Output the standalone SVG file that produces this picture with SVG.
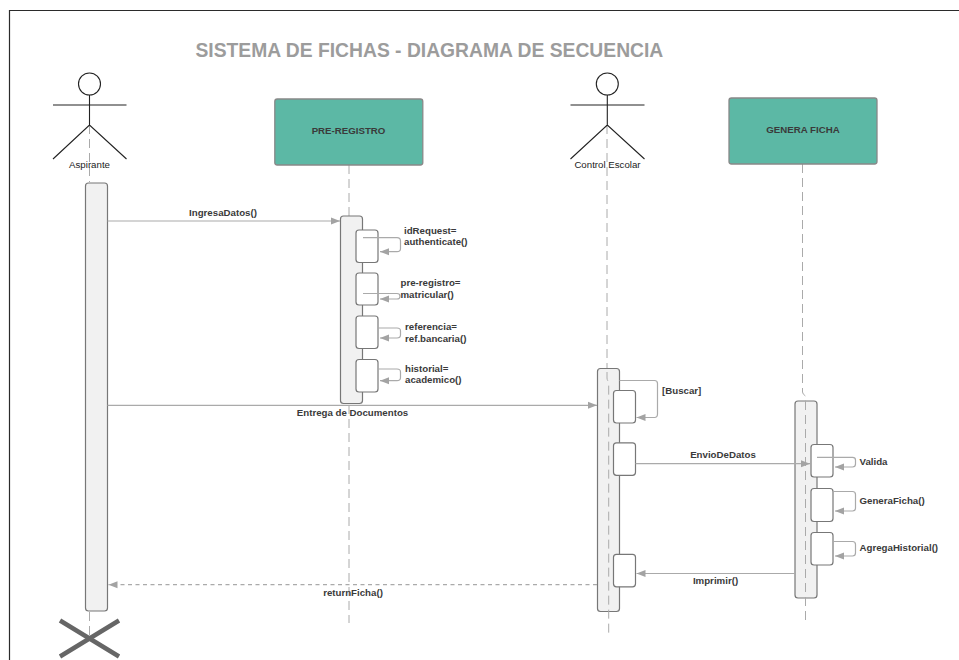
<svg xmlns="http://www.w3.org/2000/svg" width="959" height="660" viewBox="0 0 959 660">
<style>
text{font-family:"Liberation Sans",Arial,sans-serif;fill:#3a3a3a;font-weight:bold;font-size:9.7px}
.title{font-size:19.3px;fill:#9c9c9c}
.c{text-anchor:middle}
.reg{font-weight:normal;fill:#222}
.actor{fill:none;stroke:#222;stroke-width:1.1}
.life{fill:none;stroke:#aaa;stroke-width:1;stroke-dasharray:9 5}
.box{fill:#5cb8a5;stroke:#888;stroke-width:1.3}
.act{fill:#f1f1f1;stroke:#777;stroke-width:1.2}
.sub{fill:#fff;stroke:#777;stroke-width:1.2}
.msg{fill:none;stroke:#aaa;stroke-width:1.2;marker-end:url(#arr)}
.dash{stroke-dasharray:4 3.5}
</style>
<defs>
<marker id="arr" markerUnits="userSpaceOnUse" markerWidth="10" markerHeight="8" refX="9" refY="4" orient="auto"><path d="M0 0.5L9 4L0 7.5Z" fill="#a3a3a3"/></marker>
</defs>
<rect width="959" height="660" fill="#fff"/>
<path id="frame" d="M9.500 660V10.500H959" fill="none" stroke="#2b2b2b" stroke-width="1.200"/>
<text class="title" x="195.500" y="56.500">SISTEMA DE FICHAS - DIAGRAMA DE SECUENCIA</text>
<g id="lifelines">
<path class="life" d="M89.500 125V182M89.500 612V640"/>
<path class="life" d="M349 165V216M349 405V623"/>
<path class="life" d="M607 125V372"/>
<path class="life" d="M802.500 164V392Q802.500 394 805.500 396V401"/>
</g>
<g id="actor-aspirante">
<circle class="actor" cx="89.500" cy="84" r="11"/>
<path class="actor" d="M53 105H126.500M89.500 95V125M53 159L89.500 125L126.500 159"/>
<text class="c reg" x="89.500" y="167.500">Aspirante</text>
<rect class="act" x="85.500" y="183" width="22" height="428" rx="3"/>
<path d="M60 620.500L119 656.500M119 620.500L60 656.500" stroke="#666" stroke-width="4.500" fill="none"/>
</g>
<g id="node-pre-registro">
<rect class="box" x="274.800" y="99" width="148" height="66" rx="2.500"/>
<text class="c" x="348.500" y="133.500">PRE-REGISTRO</text>
<rect class="act" x="340.500" y="216" width="22" height="187.500" rx="3"/>
<rect class="sub" x="356" y="230" width="22" height="32.500" rx="3"/>
<rect class="sub" x="356" y="273" width="22" height="32" rx="3"/>
<rect class="sub" x="356" y="316" width="22" height="32.500" rx="3"/>
<rect class="sub" x="356" y="359.500" width="22" height="32.500" rx="3"/>
</g>
<g id="actor-control-escolar">
<circle class="actor" cx="607.300" cy="84" r="11"/>
<path class="actor" d="M570.500 105H644.500M607.300 95V125M570.500 159L607.300 125L644.500 159"/>
<text class="c reg" x="607.500" y="167.500">Control Escolar</text>
<rect class="act" x="597.500" y="368.500" width="22" height="243" rx="3"/>
<path class="life" d="M607 372V378Q607 380 608.700 382V634"/>
<rect class="sub" x="613.500" y="390.500" width="22" height="32.500" rx="3"/>
<rect class="sub" x="613.500" y="442.800" width="22" height="32.500" rx="3"/>
<rect class="sub" x="613.500" y="554.300" width="22" height="32.500" rx="3"/>
</g>
<g id="node-genera-ficha">
<rect class="box" x="729" y="98" width="148" height="66" rx="2.500"/>
<text class="c" x="803" y="132.500">GENERA FICHA</text>
<rect class="act" x="795" y="401" width="22" height="197" rx="3"/>
<path class="life" d="M805.500 401V622"/>
<rect class="sub" x="811" y="444.500" width="22" height="32.500" rx="3"/>
<rect class="sub" x="811" y="488.500" width="22" height="33" rx="3"/>
<rect class="sub" x="811" y="532.500" width="22" height="32.500" rx="3"/>
</g>
<g id="connectors">
<path class="msg" d="M107.500 221H340"/>
<path class="msg" d="M363 237.700H397Q400.500 237.700 400.500 241V248.500Q400.500 251.700 397 251.700H380"/>
<path class="msg" d="M363 293.500H397Q400 293.500 400 296.200Q400 299 397 299H380"/>
<path class="msg" d="M378 328H397Q400.500 328 400.500 331V335Q400.500 338 397 338H380"/>
<path class="msg" d="M378 369H397Q400.500 369 400.500 372V377.500Q400.500 380.700 397 380.700H380"/>
<path class="msg" d="M107.500 405.300H597"/>
<path class="msg" d="M619.500 380.500H654.500Q657.500 380.500 657.500 383.500V414Q657.500 417.500 654.500 417.500H636.500"/>
<path class="msg" d="M635.500 463.700H810"/>
<path class="msg" d="M817 457.300H852.500Q855.500 457.300 855.500 460V464Q855.500 467 852.500 467H835"/>
<path class="msg" d="M833 491.500H852.500Q855.500 491.500 855.500 494.500V508Q855.500 511 852.500 511H835"/>
<path class="msg" d="M833 541.500H852.500Q855.500 541.500 855.500 544.500V553Q855.500 556 852.500 556H835"/>
<path class="msg" d="M795 573.500H636.500"/>
<path class="msg dash" d="M597 584.700H108.500"/>
</g>
<g id="labels">
<text class="c" x="223" y="215.500">IngresaDatos()</text>
<text x="404" y="233.500">idRequest=</text>
<text x="404" y="245">authenticate()</text>
<text x="400.500" y="286">pre-registro=</text>
<text x="400.500" y="297.500">matricular()</text>
<text x="405" y="329.500">referencia=</text>
<text x="405" y="341.500">ref.bancaria()</text>
<text x="405" y="371.500">historial=</text>
<text x="405" y="383">academico()</text>
<text class="c" x="352.500" y="415.500">Entrega de Documentos</text>
<text x="662" y="393.500">[Buscar]</text>
<text class="c" x="723" y="457.500">EnvioDeDatos</text>
<text x="859.500" y="465">Valida</text>
<text x="859.500" y="503.500">GeneraFicha()</text>
<text x="859.500" y="551">AgregaHistorial()</text>
<text class="c" x="715.500" y="583.500">Imprimir()</text>
<text class="c" x="353" y="595.500">returnFicha()</text>
</g>
</svg>
